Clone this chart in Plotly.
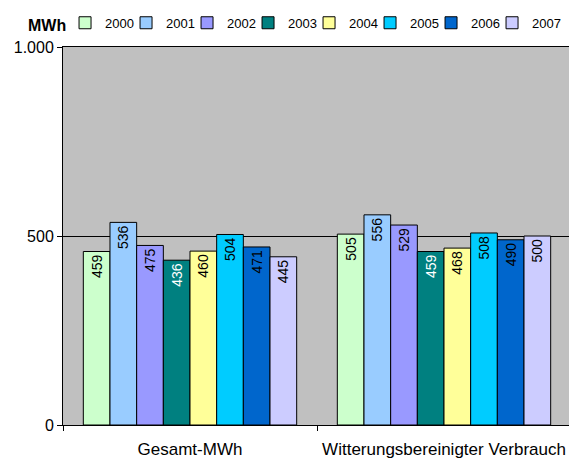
import plotly.graph_objects as go

categories = ["Gesamt-MWh", "Witterungsbereinigter Verbrauch"]
years = ["2000", "2001", "2002", "2003", "2004", "2005", "2006", "2007"]
values = {
    "2000": [459, 505],
    "2001": [536, 556],
    "2002": [475, 529],
    "2003": [436, 459],
    "2004": [460, 468],
    "2005": [504, 508],
    "2006": [471, 490],
    "2007": [445, 500],
}
colors = ["#CCFFCC", "#99CCFF", "#9999FF", "#008080",
          "#FFFF99", "#00CCFF", "#0066CC", "#CCCCFF"]
text_colors = ["black", "black", "black", "white",
               "black", "black", "black", "black"]

fig = go.Figure()
for year, col, tcol in zip(years, colors, text_colors):
    fig.add_trace(go.Bar(
        name=year,
        x=categories,
        y=values[year],
        marker=dict(color=col, line=dict(color="black", width=1)),
        text=[str(v) for v in values[year]],
        textposition="inside",
        insidetextanchor="end",
        textangle=-90,
        textfont=dict(color=tcol, size=14, family="Liberation Sans, Arial"),
    ))
# last legend entry gets room for its text so it is not clipped
fig.data[-1].legendwidth = 34

# page body has an 8px margin, so the figure is sized a little smaller
fig.update_layout(
    width=569,
    height=451,
    barmode="group",
    bargap=0.16,
    bargroupgap=0,
    separators=",.",
    paper_bgcolor="white",
    plot_bgcolor="#C0C0C0",
    font=dict(family="Liberation Sans, Arial", size=14, color="black"),
    margin=dict(l=55, r=6, t=39, b=34, autoexpand=False),
    showlegend=True,
    legend=dict(
        orientation="h",
        x=0.004, xanchor="left",
        y=1.064, yanchor="middle",
        font=dict(size=13),
        itemwidth=30,
        entrywidth=16,
        entrywidthmode="pixels",
        tracegroupgap=0,
        bgcolor="rgba(0,0,0,0)",
    ),
    annotations=[dict(
        text="<b>MWh</b>", x=-0.031, y=1.058, xref="paper", yref="paper",
        xanchor="center", yanchor="middle",
        showarrow=False, font=dict(size=16),
    )],
)

fig.update_yaxes(
    range=[0, 1000],
    tickvals=[0, 500, 1000],
    tickformat=",d",
    ticks="outside",
    ticklen=5,
    tickcolor="black",
    showgrid=True,
    gridcolor="black",
    gridwidth=1,
    showline=True,
    linecolor="black",
    linewidth=1,
    mirror=True,
    zeroline=False,
    tickfont=dict(size=16),
)
fig.update_xaxes(
    showline=True,
    linecolor="black",
    linewidth=1,
    mirror=True,
    ticks="outside",
    tickson="boundaries",
    ticklen=5,
    tickcolor="black",
    ticklabelstandoff=9,
    tickfont=dict(size=17),
)

fig.write_html("out.html")
